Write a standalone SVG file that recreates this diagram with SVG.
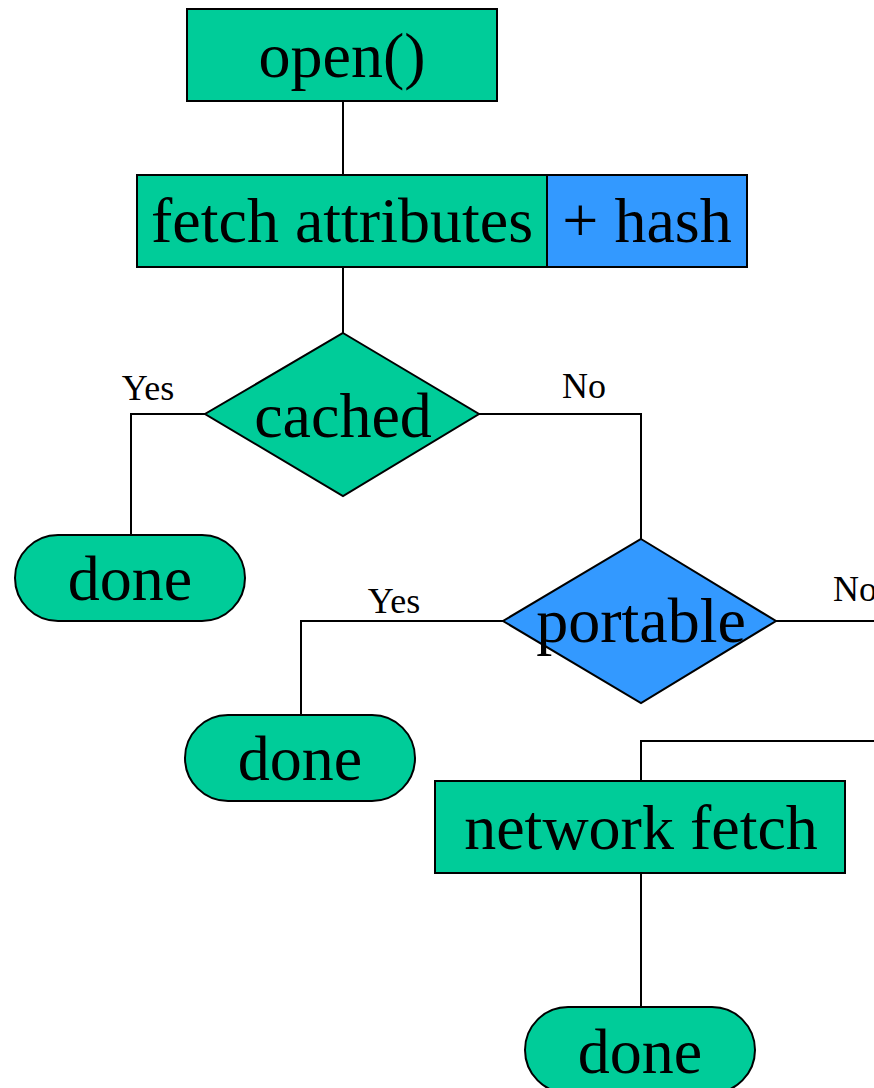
<svg xmlns="http://www.w3.org/2000/svg" width="874" height="1088" viewBox="0 0 874 1088">
<style>
.g{fill:#00CC99;stroke:#000;stroke-width:2}
.b{fill:#3399FF;stroke:#000;stroke-width:2}
.t{font-family:"Liberation Serif","Times New Roman",serif;font-size:64px;fill:#000;text-anchor:middle}
.l{font-family:"Liberation Serif","Times New Roman",serif;font-size:36px;fill:#000;text-anchor:middle}
.c{fill:none;stroke:#000;stroke-width:2}
</style>
<rect width="874" height="1088" fill="#fff"/>
<g id="connectors">
<path class="c" d="M343 101V175"/>
<path class="c" d="M343 267V333"/>
<path class="c" d="M205 414H131V535"/>
<path class="c" d="M479 414H641V539"/>
<path class="c" d="M503 621H301V715"/>
<path class="c" d="M776 621H880"/>
<path class="c" d="M880 741H641V781"/>
<path class="c" d="M641 873V1007"/>
<text class="l" x="148" y="400">Yes</text>
<text class="l" x="584" y="398">No</text>
<text class="l" x="394" y="613">Yes</text>
<text class="l" x="855" y="601">No</text>
</g>
<g id="open">
<rect class="g" x="187" y="9" width="310" height="92"/>
<text class="t" x="342" y="77">open()</text>
</g>
<g id="fetch">
<rect class="g" x="137" y="175" width="410" height="92"/>
<text class="t" x="342" y="242">fetch attributes</text>
</g>
<g id="hash">
<rect class="b" x="547" y="175" width="200" height="92"/>
<text class="t" x="647" y="242">+ hash</text>
</g>
<g id="cached">
<polygon class="g" points="343,333 479,414 343,496 205,414"/>
<text class="t" x="343" y="437">cached</text>
</g>
<g id="done1">
<rect class="g" x="15" y="535" width="230" height="86" rx="43"/>
<text class="t" x="130" y="600">done</text>
</g>
<g id="portable">
<polygon class="b" points="641,539 776,621 641,703 503,621"/>
<text class="t" x="641" y="642">portable</text>
</g>
<g id="done2">
<rect class="g" x="185" y="715" width="230" height="86" rx="43"/>
<text class="t" x="300" y="780">done</text>
</g>
<g id="network">
<rect class="g" x="435" y="781" width="410" height="92"/>
<text class="t" x="641" y="849">network fetch</text>
</g>
<g id="done3">
<rect class="g" x="525" y="1007" width="230" height="86" rx="43"/>
<text class="t" x="640" y="1073">done</text>
</g>
</svg>
